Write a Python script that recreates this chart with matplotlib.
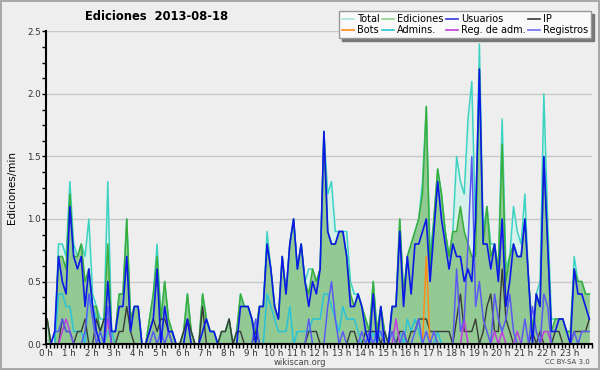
import matplotlib

matplotlib.use("Agg")
import matplotlib.pyplot as plt
import numpy as np
from matplotlib.lines import Line2D
from matplotlib.ticker import MultipleLocator

# edits counted per 10-minute slot (144 slots, 00:00 -> 23:50)
total_10min = [
    2, 0, 0, 8, 8, 7, 13, 8, 7, 8, 7, 10, 4, 3, 2, 2, 13, 1, 1, 4, 4, 10, 2, 3,
    3, 0, 0, 2, 4, 8, 2, 5, 2, 1, 0, 0, 1, 4, 1, 0, 0, 4, 2, 1, 1, 0, 1, 1,
    2, 0, 1, 4, 3, 3, 2, 1, 3, 3, 9, 6, 3, 2, 7, 4, 8, 10, 6, 8, 5, 6, 6, 5,
    6, 17, 12, 13, 9, 9, 9, 9, 5, 4, 4, 3, 2, 1, 5, 1, 3, 1, 0, 3, 3, 10, 4, 7,
    8, 9, 10, 13, 19, 7, 10, 14, 12, 9, 7, 9, 15, 13, 12, 18, 21, 9, 24, 9, 11, 8, 8, 6,
    18, 6, 7, 11, 9, 8, 12, 5, 1, 4, 5, 20, 10, 2, 2, 2, 2, 1, 1, 7, 5, 5, 4, 4,
]
ediciones_10min = [
    2, 0, 0, 7, 7, 6, 12, 7, 7, 8, 5, 6, 3, 3, 1, 2, 8, 1, 1, 4, 4, 10, 2, 3,
    3, 0, 0, 2, 4, 7, 2, 5, 2, 1, 0, 0, 1, 4, 1, 0, 0, 4, 2, 1, 1, 0, 1, 1,
    2, 0, 1, 4, 3, 3, 2, 1, 3, 3, 8, 6, 3, 2, 7, 4, 8, 10, 6, 8, 5, 4, 6, 5,
    6, 17, 9, 8, 8, 9, 9, 7, 4, 3, 4, 3, 2, 1, 5, 1, 3, 1, 0, 3, 3, 10, 4, 7,
    8, 9, 10, 12, 19, 6, 10, 14, 12, 9, 7, 9, 9, 11, 9, 8, 7, 7, 22, 8, 11, 7, 8, 6,
    16, 5, 7, 8, 7, 7, 10, 5, 1, 4, 3, 15, 8, 1, 2, 2, 2, 1, 1, 6, 5, 5, 4, 4,
]
usuarios_10min = [
    0, 0, 1, 7, 5, 4, 11, 7, 6, 7, 3, 6, 3, 1, 0, 0, 5, 1, 1, 3, 3, 7, 1, 3,
    3, 0, 0, 1, 2, 6, 0, 3, 1, 1, 0, 0, 0, 2, 0, 0, 0, 1, 2, 1, 1, 0, 0, 0,
    0, 0, 0, 3, 3, 3, 2, 0, 3, 3, 8, 6, 3, 2, 7, 4, 8, 10, 6, 8, 5, 3, 5, 4,
    6, 17, 9, 8, 8, 9, 9, 7, 3, 3, 4, 3, 1, 0, 4, 0, 3, 0, 0, 3, 3, 9, 3, 7,
    4, 8, 8, 9, 10, 5, 9, 13, 10, 8, 6, 8, 7, 7, 5, 6, 5, 10, 22, 8, 8, 6, 8, 5,
    10, 3, 5, 8, 7, 7, 10, 5, 0, 4, 3, 15, 8, 1, 1, 2, 2, 1, 0, 6, 4, 4, 3, 2,
]
ip_10min = [
    2, 0, 0, 0, 2, 1, 1, 0, 1, 1, 2, 0, 0, 2, 1, 2, 2, 0, 0, 1, 1, 3, 1, 0,
    0, 0, 0, 1, 2, 1, 2, 2, 1, 0, 0, 0, 1, 2, 1, 0, 0, 3, 0, 0, 0, 0, 1, 1,
    2, 0, 1, 1, 0, 0, 0, 1, 0, 0, 0, 0, 0, 0, 0, 0, 0, 0, 0, 0, 0, 1, 1, 1,
    0, 0, 0, 0, 0, 0, 0, 0, 1, 1, 0, 0, 1, 1, 1, 1, 0, 1, 0, 0, 0, 1, 1, 0,
    1, 1, 2, 2, 2, 1, 1, 1, 1, 1, 1, 0, 2, 4, 1, 1, 1, 2, 0, 1, 3, 4, 1, 1,
    6, 2, 1, 0, 0, 0, 0, 0, 1, 0, 1, 0, 0, 0, 1, 1, 0, 0, 0, 1, 1, 1, 1, 2,
]
admins_10min = [
    0, 0, 0, 4, 4, 3, 3, 1, 1, 1, 0, 4, 3, 2, 1, 0, 1, 1, 0, 0, 0, 0, 0, 0,
    0, 0, 0, 0, 0, 0, 0, 0, 0, 0, 0, 0, 0, 0, 0, 0, 0, 0, 0, 0, 0, 0, 0, 0,
    0, 0, 0, 0, 0, 0, 0, 0, 0, 0, 4, 3, 2, 1, 1, 1, 3, 0, 1, 1, 1, 1, 2, 2,
    2, 4, 4, 3, 2, 1, 3, 2, 2, 2, 1, 0, 0, 0, 1, 0, 1, 0, 0, 0, 0, 1, 0, 2,
    1, 2, 1, 0, 0, 0, 0, 1, 0, 0, 0, 0, 0, 0, 0, 0, 0, 0, 0, 0, 0, 0, 0, 0,
    0, 0, 0, 0, 0, 0, 0, 0, 0, 0, 0, 0, 0, 0, 0, 0, 0, 0, 0, 0, 0, 0, 0, 0,
]
registros_10min = [
    0, 0, 1, 1, 2, 1, 1, 0, 0, 0, 1, 4, 2, 0, 1, 0, 3, 0, 0, 0, 0, 0, 0, 0,
    0, 0, 0, 0, 1, 0, 1, 0, 1, 0, 0, 0, 0, 0, 0, 0, 0, 0, 0, 0, 0, 0, 0, 0,
    0, 0, 0, 0, 0, 0, 0, 2, 0, 0, 0, 0, 0, 0, 0, 0, 0, 0, 0, 0, 0, 2, 0, 0,
    0, 0, 3, 5, 2, 0, 1, 0, 0, 0, 0, 1, 0, 1, 0, 1, 1, 0, 0, 1, 0, 0, 1, 0,
    0, 1, 2, 0, 1, 0, 1, 0, 0, 0, 0, 0, 6, 1, 2, 8, 15, 3, 5, 2, 1, 0, 4, 2,
    1, 2, 4, 1, 0, 0, 2, 0, 3, 1, 0, 4, 3, 0, 0, 0, 0, 0, 0, 1, 0, 1, 1, 1,
]
reg_adm_10min = [
    0, 0, 0, 0, 1, 2, 1, 0, 0, 0, 0, 0, 0, 0, 0, 0, 2, 0, 0, 0, 0, 0, 0, 0,
    0, 0, 0, 0, 0, 0, 0, 0, 0, 0, 0, 0, 0, 0, 0, 0, 0, 0, 0, 0, 0, 0, 0, 0,
    0, 0, 0, 0, 0, 0, 0, 0, 0, 0, 0, 0, 0, 0, 0, 0, 0, 0, 0, 0, 0, 0, 0, 0,
    0, 0, 0, 0, 0, 0, 0, 0, 0, 0, 0, 0, 0, 0, 0, 0, 0, 0, 0, 0, 2, 0, 0, 0,
    0, 0, 0, 0, 0, 0, 0, 0, 0, 0, 0, 0, 0, 0, 2, 0, 0, 0, 0, 0, 0, 0, 1, 0,
    1, 0, 0, 0, 1, 0, 0, 0, 0, 0, 0, 1, 1, 0, 0, 0, 0, 0, 0, 0, 0, 0, 0, 0,
]
bots_10min = [0] * 100 + [7] + [0] * 43

hour_labels = [f"{h} h" for h in range(24)]

BG = "#eeeeef"
C_TOTAL = "#3dd3c3"
C_TOTAL_FILL = "#d6f0ec"
C_EDIC = "#3aad3a"
C_EDIC_FILL = "#93c993"
C_USR = "#0c18e8"
C_IP = "#3a3a3a"
C_BOTS = "#ff8c1a"
C_ADM = "#2ac4d6"
C_REGADM = "#c23ee0"
C_REG = "#5a5af2"

x = np.arange(len(total_10min)) / 6 + 0.05
per_min = lambda v: np.asarray(v) / 10

fig = plt.figure(figsize=(6, 3.7), dpi=100, facecolor=BG)
fig.patch.set_edgecolor("#a8a8a8")
fig.patch.set_linewidth(1.5)
ax = fig.add_axes([46 / 600, 26 / 370, 546 / 600, 312.5 / 370], facecolor=BG)

ax.fill_between(x, per_min(total_10min), color=C_TOTAL_FILL, lw=0)
ax.fill_between(x, per_min(ediciones_10min), color=C_EDIC_FILL, lw=0)
ax.plot(x, per_min(total_10min), color=C_TOTAL, lw=1.1)
ax.plot(x, per_min(ediciones_10min), color=C_EDIC, lw=1.1)
ax.plot(x, per_min(admins_10min), color=C_ADM, lw=1.1)
ax.plot(x, per_min(ip_10min), color=C_IP, lw=1.0)
ax.plot(x, per_min(bots_10min), color=C_BOTS, lw=1.1)
ax.plot(x, per_min(reg_adm_10min), color=C_REGADM, lw=1.1)
ax.plot(x, per_min(registros_10min), color=C_REG, lw=1.1)
ax.plot(x, per_min(usuarios_10min), color=C_USR, lw=1.2)

ax.set_xlim(0, 24)
ax.set_ylim(0, 2.5)
ax.yaxis.set_major_locator(MultipleLocator(0.5))
ax.yaxis.set_minor_locator(MultipleLocator(0.125))
ax.set_xticks(range(24))
ax.set_xticklabels(hour_labels)
ax.xaxis.set_minor_locator(MultipleLocator(1 / 6))
ax.yaxis.set_major_formatter(matplotlib.ticker.FormatStrFormatter("%.1f"))
ax.tick_params(axis="both", which="both", direction="out", color="black", width=1)
ax.tick_params(axis="both", which="major", length=3, labelsize=6.3, labelcolor="#333333", pad=0.5)
ax.tick_params(axis="both", which="minor", length=3)
ax.grid(axis="y", color="#c8c8c8", lw=1)
ax.set_axisbelow(True)
for side in ("top", "right"):
    ax.spines[side].set_visible(False)
for side in ("left", "bottom"):
    ax.spines[side].set_linewidth(1.5)

fig.text(12 / 600, 1 - 188 / 370, "Ediciones/min", rotation=90, ha="center", va="center", fontsize=7.5)
fig.text(85 / 600, 1 - 17 / 370, "Ediciones  2013-08-18", ha="left", va="center",
         fontsize=8.3, fontweight="bold")
fig.text(300 / 600, 1 - 362.5 / 370, "wikiscan.org", ha="center", va="center", fontsize=6, color="#444444")
fig.text(590 / 600, 1 - 362.5 / 370, "CC BY-SA 3.0", ha="right", va="center", fontsize=5, color="#444444")

handles = [
    Line2D([], [], color="#a8e6df", lw=1.2, label="Total"),
    Line2D([], [], color=C_BOTS, lw=1.2, label="Bots"),
    Line2D([], [], color="#8cd48c", lw=1.2, label="Ediciones"),
    Line2D([], [], color=C_ADM, lw=1.2, label="Admins."),
    Line2D([], [], color="#3838e0", lw=1.2, label="Usuarios"),
    Line2D([], [], color=C_REGADM, lw=1.2, label="Reg. de adm."),
    Line2D([], [], color=C_IP, lw=1.2, label="IP"),
    Line2D([], [], color="#7070f0", lw=1.2, label="Registros"),
]
leg = fig.legend(handles=handles, ncol=4, loc="upper right", bbox_to_anchor=(591 / 600, 1 - 11 / 370),
                 fontsize=7, frameon=True, fancybox=False, shadow={"color": "#777777", "alpha": 1},
                 handlelength=1.2, handletextpad=0.3, columnspacing=0.3, labelspacing=0.15,
                 borderpad=0.3, borderaxespad=0)
leg.get_frame().set_edgecolor("#999999")
leg.get_frame().set_facecolor("#fafafa")

fig.savefig("out.png", dpi=100, facecolor=BG, edgecolor=fig.patch.get_edgecolor())
